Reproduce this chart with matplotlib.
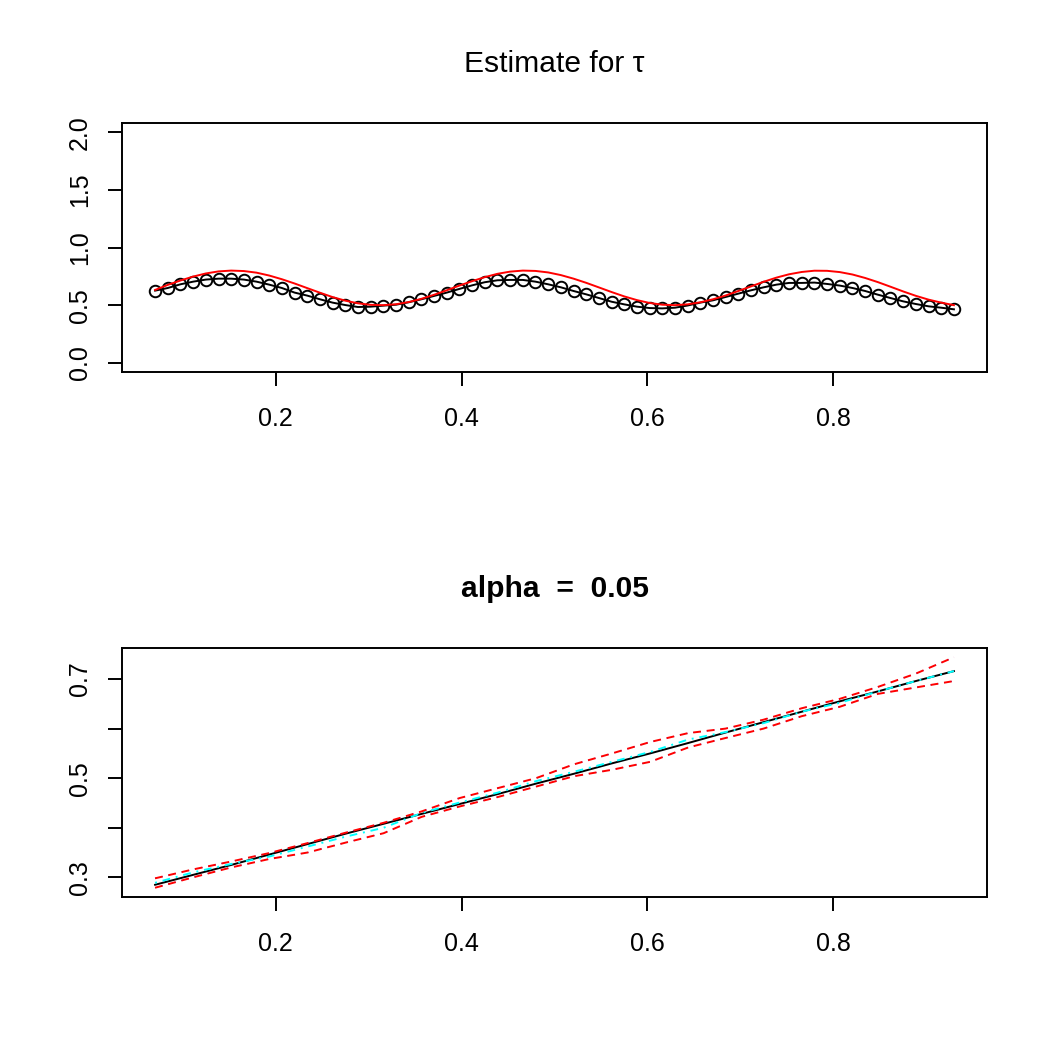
import matplotlib.pyplot as plt
import numpy as np

plt.rcParams['font.family'] = ['Liberation Sans', 'DejaVu Sans']

# grid used for the estimate of tau (top panel)
x_grid = [0.0700, 0.0837, 0.0973, 0.1110, 0.1246, 0.1383, 0.1519, 0.1656,
          0.1792, 0.1929, 0.2065, 0.2202, 0.2338, 0.2475, 0.2611, 0.2748,
          0.2884, 0.3021, 0.3157, 0.3294, 0.3430, 0.3567, 0.3703, 0.3840,
          0.3976, 0.4113, 0.4249, 0.4386, 0.4522, 0.4659, 0.4795, 0.4932,
          0.5068, 0.5205, 0.5341, 0.5478, 0.5614, 0.5751, 0.5887, 0.6024,
          0.6160, 0.6297, 0.6433, 0.6570, 0.6706, 0.6843, 0.6979, 0.7116,
          0.7252, 0.7389, 0.7525, 0.7662, 0.7798, 0.7935, 0.8071, 0.8208,
          0.8344, 0.8481, 0.8617, 0.8754, 0.8890, 0.9027, 0.9163, 0.9300]

tau_hat = [0.626, 0.649, 0.681, 0.704, 0.722, 0.730, 0.730, 0.722,
           0.704, 0.678, 0.649, 0.609, 0.583, 0.551, 0.522, 0.501,
           0.484, 0.487, 0.496, 0.504, 0.525, 0.551, 0.580, 0.609,
           0.641, 0.672, 0.699, 0.716, 0.719, 0.719, 0.704, 0.681,
           0.655, 0.623, 0.594, 0.562, 0.530, 0.507, 0.487, 0.475,
           0.472, 0.478, 0.497, 0.522, 0.542, 0.571, 0.600, 0.629,
           0.655, 0.678, 0.693, 0.693, 0.696, 0.684, 0.670, 0.649,
           0.623, 0.591, 0.562, 0.533, 0.510, 0.490, 0.478, 0.464]

tau_true = [0.632, 0.676, 0.714, 0.748, 0.775, 0.793, 0.800, 0.796,
            0.782, 0.757, 0.725, 0.688, 0.648, 0.608, 0.570, 0.539,
            0.516, 0.503, 0.500, 0.508, 0.527, 0.555, 0.590, 0.629,
            0.670, 0.708, 0.743, 0.772, 0.791, 0.800, 0.797, 0.784,
            0.761, 0.730, 0.694, 0.654, 0.614, 0.576, 0.544, 0.519,
            0.504, 0.500, 0.507, 0.525, 0.551, 0.584, 0.623, 0.663,
            0.703, 0.739, 0.768, 0.788, 0.799, 0.798, 0.787, 0.766,
            0.736, 0.700, 0.660, 0.619, 0.581, 0.548, 0.522, 0.500]

# bands for alpha = 0.05 (bottom panel)
x_band = [0.070, 0.111, 0.152, 0.193, 0.234, 0.275, 0.316, 0.357, 0.398, 0.439, 0.480,
          0.521, 0.562, 0.603, 0.644, 0.684, 0.725, 0.766, 0.807, 0.848, 0.889, 0.930]
q_true = [0.285, 0.305, 0.325, 0.346, 0.367, 0.388, 0.408, 0.428, 0.448, 0.468, 0.489,
          0.509, 0.530, 0.550, 0.571, 0.592, 0.613, 0.634, 0.655, 0.675, 0.696, 0.716]
q_hat = [0.289, 0.310, 0.327, 0.342, 0.362, 0.382, 0.400, 0.430, 0.451, 0.471, 0.494,
         0.513, 0.533, 0.553, 0.578, 0.593, 0.611, 0.634, 0.652, 0.675, 0.696, 0.716]
q_upper = [0.298, 0.316, 0.332, 0.349, 0.369, 0.390, 0.410, 0.433, 0.460, 0.480, 0.500,
           0.528, 0.550, 0.573, 0.591, 0.600, 0.618, 0.641, 0.660, 0.684, 0.711, 0.744]
q_lower = [0.279, 0.300, 0.320, 0.337, 0.350, 0.370, 0.389, 0.422, 0.443, 0.462, 0.483,
           0.504, 0.517, 0.533, 0.562, 0.581, 0.600, 0.625, 0.644, 0.670, 0.683, 0.696]

lw = 1.4
fig = plt.figure(figsize=(10.5, 10.5), dpi=100)

def style_axes(ax):
    for s in ax.spines.values():
        s.set_linewidth(lw)
    ax.tick_params(axis='both', direction='out', length=10, width=lw, labelsize=18)
    ax.tick_params(axis='x', pad=15)
    ax.tick_params(axis='y', pad=11.5, labelrotation=90)
    for t in ax.get_yticklabels():
        t.set_verticalalignment('center')
    ax.set_xlim(0.0344, 0.9656)
    ax.set_xticks([0.2, 0.4, 0.6, 0.8])
    ax.set_xticklabels(['0.2', '0.4', '0.6', '0.8'])

# top panel
ax1 = fig.add_axes([0.1162, 0.6457, 0.8238, 0.2371])
ax1.plot(x_grid, tau_hat, '-o', color='black', lw=lw, markersize=8.3,
         markerfacecolor='none', markeredgewidth=lw)
ax1.plot(x_grid, tau_true, '-', color='red', lw=lw)
ax1.set_ylim(-0.08, 2.08)
ax1.set_yticks([0.0, 0.5, 1.0, 1.5, 2.0])
ax1.set_yticklabels(['0.0', '0.5', '1.0', '1.5', '2.0'])
style_axes(ax1)
fig.text(0.5281, 0.9314, 'Estimate for \u03c4', fontsize=21.6, ha='center', va='baseline')

# bottom panel
ax2 = fig.add_axes([0.1162, 0.1457, 0.8238, 0.2371])
ax2.plot(x_band, q_true, '-', color='black', lw=lw)
ax2.plot(x_band, q_hat, color='cyan', lw=lw, dashes=(1, 3, 4, 3))
for q in [q_upper, q_lower]:
    ax2.plot(x_band, q, color='blue', lw=0.7, dashes=(1, 6))
    ax2.plot(x_band, q, color='red', lw=lw, dashes=(4, 3))
ax2.set_ylim(0.2603, 0.7625)
ax2.set_yticks([0.3, 0.4, 0.5, 0.6, 0.7])
ax2.set_yticklabels(['0.3', '', '0.5', '', '0.7'])
style_axes(ax2)
fig.text(0.5281, 0.4314, 'alpha  =  0.05', fontsize=21.6, fontweight='bold',
         ha='center', va='baseline')

fig.savefig('out.png', dpi=100)
plt.close(fig)
